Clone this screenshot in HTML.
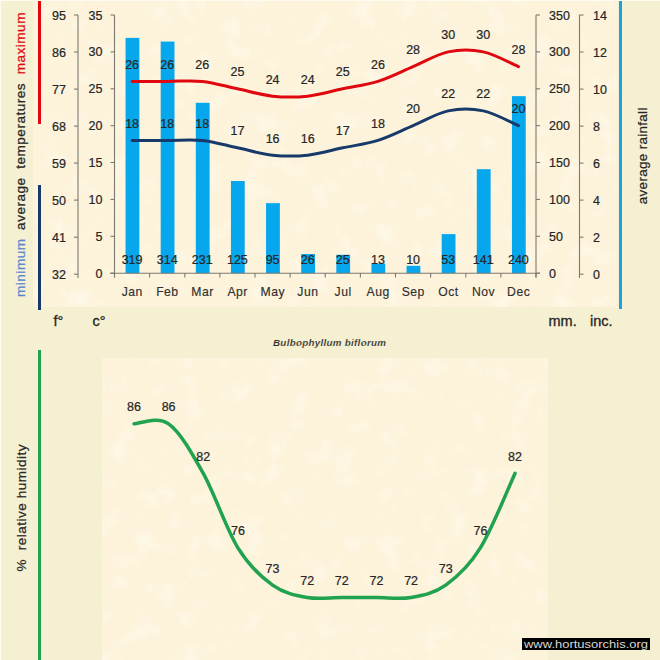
<!DOCTYPE html><html><head><meta charset="utf-8"><style>html,body{margin:0;padding:0;background:#F6F0D3;}svg{display:block;}text{font-family:"Liberation Sans",sans-serif;} .n{stroke:#262626;stroke-width:0.22px;} .m{stroke:#303030;stroke-width:0.15px;}</style></head><body>
<svg width="660" height="660" viewBox="0 0 660 660">
<rect x="0" y="0" width="660" height="660" fill="#F6F0D3"/>
<defs><filter id="tx" x="0" y="0" width="100%" height="100%" filterUnits="objectBoundingBox"><feTurbulence type="fractalNoise" baseFrequency="0.045" numOctaves="3" seed="7" result="n"/><feColorMatrix in="n" type="matrix" values="0 0 0 0 1  0 0 0 0 1  0 0 0 0 0.93  2.2 0 0 0 -1.15"/></filter><filter id="tx2" x="0" y="0" width="100%" height="100%" filterUnits="objectBoundingBox"><feTurbulence type="fractalNoise" baseFrequency="0.05" numOctaves="3" seed="21" result="n"/><feColorMatrix in="n" type="matrix" values="0 0 0 0 0.93  0 0 0 0 0.86  0 0 0 0 0.72  1.6 0 0 0 -0.88"/></filter></defs>
<rect x="33" y="1" width="584" height="306" fill="#FDF3DB"/>
<rect x="33" y="1" width="584" height="306" filter="url(#tx)" opacity="0.55"/>
<rect x="33" y="1" width="584" height="306" filter="url(#tx2)" opacity="0.25"/>
<rect x="102" y="358" width="446" height="302" fill="#FDF3DB"/>
<rect x="102" y="358" width="446" height="302" filter="url(#tx)" opacity="0.55"/>
<rect x="102" y="358" width="446" height="302" filter="url(#tx2)" opacity="0.25"/>
<rect x="38" y="1" width="3" height="123" fill="#E0080F"/>
<rect x="38" y="185" width="3" height="125" fill="#183A6B"/>
<rect x="619" y="1" width="3" height="308" fill="#1BA1E0"/>
<rect x="38" y="350" width="3" height="310" fill="#20A24F"/>
<text transform="translate(24.8,297) rotate(-90)" font-size="13.6" style="stroke-width:0.25px" textLength="284.5" lengthAdjust="spacing" xml:space="preserve"><tspan fill="#5A86CF" stroke="#5A86CF">minimum</tspan><tspan fill="#262626" stroke="#262626">  average  temperatures  </tspan><tspan fill="#E0080F" stroke="#E0080F">maximum</tspan></text>
<rect x="125.56" y="37.87" width="13.8" height="235.33" fill="#06A7EC"/>
<rect x="160.69" y="41.56" width="13.8" height="231.64" fill="#06A7EC"/>
<rect x="195.81" y="102.79" width="13.8" height="170.41" fill="#06A7EC"/>
<rect x="230.94" y="180.99" width="13.8" height="92.21" fill="#06A7EC"/>
<rect x="266.06" y="203.12" width="13.8" height="70.08" fill="#06A7EC"/>
<rect x="301.19" y="254.02" width="13.8" height="19.18" fill="#06A7EC"/>
<rect x="336.31" y="254.76" width="13.8" height="18.44" fill="#06A7EC"/>
<rect x="371.44" y="263.61" width="13.8" height="9.59" fill="#06A7EC"/>
<rect x="406.56" y="265.82" width="13.8" height="7.38" fill="#06A7EC"/>
<rect x="441.69" y="234.10" width="13.8" height="39.10" fill="#06A7EC"/>
<rect x="476.81" y="169.18" width="13.8" height="104.02" fill="#06A7EC"/>
<rect x="511.94" y="96.15" width="13.8" height="177.05" fill="#06A7EC"/>
<line x1="78.0" y1="15.0" x2="78.0" y2="278.0" stroke="#7C7870" stroke-width="1.1"/>
<line x1="74.0" y1="15.0" x2="78.0" y2="15.0" stroke="#7C7870" stroke-width="1.1"/>
<text x="66" y="19.5" font-size="12.5" class="n" fill="#262626" text-anchor="end">95</text>
<line x1="74.0" y1="52.0" x2="78.0" y2="52.0" stroke="#7C7870" stroke-width="1.1"/>
<text x="66" y="56.5" font-size="12.5" class="n" fill="#262626" text-anchor="end">86</text>
<line x1="74.0" y1="89.1" x2="78.0" y2="89.1" stroke="#7C7870" stroke-width="1.1"/>
<text x="66" y="93.6" font-size="12.5" class="n" fill="#262626" text-anchor="end">77</text>
<line x1="74.0" y1="126.1" x2="78.0" y2="126.1" stroke="#7C7870" stroke-width="1.1"/>
<text x="66" y="130.6" font-size="12.5" class="n" fill="#262626" text-anchor="end">68</text>
<line x1="74.0" y1="163.1" x2="78.0" y2="163.1" stroke="#7C7870" stroke-width="1.1"/>
<text x="66" y="167.6" font-size="12.5" class="n" fill="#262626" text-anchor="end">59</text>
<line x1="74.0" y1="200.1" x2="78.0" y2="200.1" stroke="#7C7870" stroke-width="1.1"/>
<text x="66" y="204.6" font-size="12.5" class="n" fill="#262626" text-anchor="end">50</text>
<line x1="74.0" y1="237.2" x2="78.0" y2="237.2" stroke="#7C7870" stroke-width="1.1"/>
<text x="66" y="241.7" font-size="12.5" class="n" fill="#262626" text-anchor="end">41</text>
<line x1="74.0" y1="274.2" x2="78.0" y2="274.2" stroke="#7C7870" stroke-width="1.1"/>
<text x="66" y="278.7" font-size="12.5" class="n" fill="#262626" text-anchor="end">32</text>
<line x1="114.5" y1="15.0" x2="114.5" y2="277.5" stroke="#7C7870" stroke-width="1.1"/>
<line x1="110.5" y1="15.0" x2="114.5" y2="15.0" stroke="#7C7870" stroke-width="1.1"/>
<text x="102.5" y="19.5" font-size="12.5" class="n" fill="#262626" text-anchor="end">35</text>
<line x1="110.5" y1="51.9" x2="114.5" y2="51.9" stroke="#7C7870" stroke-width="1.1"/>
<text x="102.5" y="56.4" font-size="12.5" class="n" fill="#262626" text-anchor="end">30</text>
<line x1="110.5" y1="88.8" x2="114.5" y2="88.8" stroke="#7C7870" stroke-width="1.1"/>
<text x="102.5" y="93.3" font-size="12.5" class="n" fill="#262626" text-anchor="end">25</text>
<line x1="110.5" y1="125.7" x2="114.5" y2="125.7" stroke="#7C7870" stroke-width="1.1"/>
<text x="102.5" y="130.2" font-size="12.5" class="n" fill="#262626" text-anchor="end">20</text>
<line x1="110.5" y1="162.5" x2="114.5" y2="162.5" stroke="#7C7870" stroke-width="1.1"/>
<text x="102.5" y="167.0" font-size="12.5" class="n" fill="#262626" text-anchor="end">15</text>
<line x1="110.5" y1="199.4" x2="114.5" y2="199.4" stroke="#7C7870" stroke-width="1.1"/>
<text x="102.5" y="203.9" font-size="12.5" class="n" fill="#262626" text-anchor="end">10</text>
<line x1="110.5" y1="236.3" x2="114.5" y2="236.3" stroke="#7C7870" stroke-width="1.1"/>
<text x="102.5" y="240.8" font-size="12.5" class="n" fill="#262626" text-anchor="end">5</text>
<line x1="110.5" y1="273.2" x2="114.5" y2="273.2" stroke="#7C7870" stroke-width="1.1"/>
<text x="102.5" y="277.7" font-size="12.5" class="n" fill="#262626" text-anchor="end">0</text>
<line x1="110.0" y1="273.2" x2="540.0" y2="273.2" stroke="#7C7870" stroke-width="1.1"/>
<line x1="114.5" y1="273.2" x2="114.5" y2="277.5" stroke="#7C7870" stroke-width="1.1"/>
<line x1="149.6" y1="273.2" x2="149.6" y2="277.5" stroke="#7C7870" stroke-width="1.1"/>
<line x1="184.8" y1="273.2" x2="184.8" y2="277.5" stroke="#7C7870" stroke-width="1.1"/>
<line x1="219.9" y1="273.2" x2="219.9" y2="277.5" stroke="#7C7870" stroke-width="1.1"/>
<line x1="255.0" y1="273.2" x2="255.0" y2="277.5" stroke="#7C7870" stroke-width="1.1"/>
<line x1="290.1" y1="273.2" x2="290.1" y2="277.5" stroke="#7C7870" stroke-width="1.1"/>
<line x1="325.2" y1="273.2" x2="325.2" y2="277.5" stroke="#7C7870" stroke-width="1.1"/>
<line x1="360.4" y1="273.2" x2="360.4" y2="277.5" stroke="#7C7870" stroke-width="1.1"/>
<line x1="395.5" y1="273.2" x2="395.5" y2="277.5" stroke="#7C7870" stroke-width="1.1"/>
<line x1="430.6" y1="273.2" x2="430.6" y2="277.5" stroke="#7C7870" stroke-width="1.1"/>
<line x1="465.8" y1="273.2" x2="465.8" y2="277.5" stroke="#7C7870" stroke-width="1.1"/>
<line x1="500.9" y1="273.2" x2="500.9" y2="277.5" stroke="#7C7870" stroke-width="1.1"/>
<line x1="536.0" y1="273.2" x2="536.0" y2="277.5" stroke="#7C7870" stroke-width="1.1"/>
<line x1="536.0" y1="15.0" x2="536.0" y2="277.5" stroke="#7C7870" stroke-width="1.1"/>
<line x1="536.0" y1="15.0" x2="540.0" y2="15.0" stroke="#7C7870" stroke-width="1.1"/>
<text x="549" y="19.5" font-size="12.5" class="n" fill="#262626">350</text>
<line x1="536.0" y1="51.9" x2="540.0" y2="51.9" stroke="#7C7870" stroke-width="1.1"/>
<text x="549" y="56.4" font-size="12.5" class="n" fill="#262626">300</text>
<line x1="536.0" y1="88.8" x2="540.0" y2="88.8" stroke="#7C7870" stroke-width="1.1"/>
<text x="549" y="93.3" font-size="12.5" class="n" fill="#262626">250</text>
<line x1="536.0" y1="125.7" x2="540.0" y2="125.7" stroke="#7C7870" stroke-width="1.1"/>
<text x="549" y="130.2" font-size="12.5" class="n" fill="#262626">200</text>
<line x1="536.0" y1="162.5" x2="540.0" y2="162.5" stroke="#7C7870" stroke-width="1.1"/>
<text x="549" y="167.0" font-size="12.5" class="n" fill="#262626">150</text>
<line x1="536.0" y1="199.4" x2="540.0" y2="199.4" stroke="#7C7870" stroke-width="1.1"/>
<text x="549" y="203.9" font-size="12.5" class="n" fill="#262626">100</text>
<line x1="536.0" y1="236.3" x2="540.0" y2="236.3" stroke="#7C7870" stroke-width="1.1"/>
<text x="549" y="240.8" font-size="12.5" class="n" fill="#262626">50</text>
<line x1="536.0" y1="273.2" x2="540.0" y2="273.2" stroke="#7C7870" stroke-width="1.1"/>
<text x="549" y="277.7" font-size="12.5" class="n" fill="#262626">0</text>
<line x1="579.5" y1="15.0" x2="579.5" y2="278.0" stroke="#7C7870" stroke-width="1.1"/>
<line x1="579.5" y1="15.0" x2="583.5" y2="15.0" stroke="#7C7870" stroke-width="1.1"/>
<text x="593" y="19.5" font-size="12.5" class="n" fill="#262626">14</text>
<line x1="579.5" y1="52.0" x2="583.5" y2="52.0" stroke="#7C7870" stroke-width="1.1"/>
<text x="593" y="56.5" font-size="12.5" class="n" fill="#262626">12</text>
<line x1="579.5" y1="89.1" x2="583.5" y2="89.1" stroke="#7C7870" stroke-width="1.1"/>
<text x="593" y="93.6" font-size="12.5" class="n" fill="#262626">10</text>
<line x1="579.5" y1="126.1" x2="583.5" y2="126.1" stroke="#7C7870" stroke-width="1.1"/>
<text x="593" y="130.6" font-size="12.5" class="n" fill="#262626">8</text>
<line x1="579.5" y1="163.1" x2="583.5" y2="163.1" stroke="#7C7870" stroke-width="1.1"/>
<text x="593" y="167.6" font-size="12.5" class="n" fill="#262626">6</text>
<line x1="579.5" y1="200.1" x2="583.5" y2="200.1" stroke="#7C7870" stroke-width="1.1"/>
<text x="593" y="204.6" font-size="12.5" class="n" fill="#262626">4</text>
<line x1="579.5" y1="237.2" x2="583.5" y2="237.2" stroke="#7C7870" stroke-width="1.1"/>
<text x="593" y="241.7" font-size="12.5" class="n" fill="#262626">2</text>
<line x1="579.5" y1="274.2" x2="583.5" y2="274.2" stroke="#7C7870" stroke-width="1.1"/>
<text x="593" y="278.7" font-size="12.5" class="n" fill="#262626">0</text>
<text transform="translate(646.5,204.2) rotate(-90)" font-size="13.5" fill="#262626" class="n" textLength="96.6" lengthAdjust="spacing">average rainfall</text>
<path d="M132.06,81.39 C137.92,81.39 155.48,81.39 167.19,81.39 C178.90,81.39 190.60,80.16 202.31,81.39 C214.02,82.62 225.73,86.31 237.44,88.77 C249.15,91.23 260.85,94.92 272.56,96.15 C284.27,97.38 295.98,97.38 307.69,96.15 C319.40,94.92 331.10,91.23 342.81,88.77 C354.52,86.31 366.23,85.08 377.94,81.39 C389.65,77.71 401.35,71.56 413.06,66.64 C424.77,61.72 436.48,54.34 448.19,51.89 C459.90,49.43 471.60,49.43 483.31,51.89 C495.02,54.34 512.58,64.18 518.44,66.64" fill="none" stroke="#E0080F" stroke-width="3" stroke-linecap="round"/>
<path d="M132.06,140.41 C137.92,140.41 155.48,140.41 167.19,140.41 C178.90,140.41 190.60,139.18 202.31,140.41 C214.02,141.64 225.73,145.33 237.44,147.79 C249.15,150.25 260.85,153.94 272.56,155.17 C284.27,156.40 295.98,156.40 307.69,155.17 C319.40,153.94 331.10,150.25 342.81,147.79 C354.52,145.33 366.23,144.10 377.94,140.41 C389.65,136.72 401.35,130.58 413.06,125.66 C424.77,120.74 436.48,113.36 448.19,110.90 C459.90,108.44 471.60,108.44 483.31,110.90 C495.02,113.36 512.58,123.20 518.44,125.66" fill="none" stroke="#183A6B" stroke-width="3" stroke-linecap="round"/>
<text x="132.1" y="68.9" font-size="12.5" class="n" fill="#262626" text-anchor="middle">26</text>
<text x="132.1" y="127.9" font-size="12.5" class="n" fill="#262626" text-anchor="middle">18</text>
<text x="132.1" y="263.5" font-size="12.5" class="n" fill="#262626" text-anchor="middle">319</text>
<text x="132.3" y="296.2" font-size="12.2" class="m" fill="#303030" text-anchor="middle" letter-spacing="0.5">Jan</text>
<text x="167.2" y="68.9" font-size="12.5" class="n" fill="#262626" text-anchor="middle">26</text>
<text x="167.2" y="127.9" font-size="12.5" class="n" fill="#262626" text-anchor="middle">18</text>
<text x="167.2" y="263.5" font-size="12.5" class="n" fill="#262626" text-anchor="middle">314</text>
<text x="167.4" y="296.2" font-size="12.2" class="m" fill="#303030" text-anchor="middle" letter-spacing="0.5">Feb</text>
<text x="202.3" y="68.9" font-size="12.5" class="n" fill="#262626" text-anchor="middle">26</text>
<text x="202.3" y="127.9" font-size="12.5" class="n" fill="#262626" text-anchor="middle">18</text>
<text x="202.3" y="263.5" font-size="12.5" class="n" fill="#262626" text-anchor="middle">231</text>
<text x="202.6" y="296.2" font-size="12.2" class="m" fill="#303030" text-anchor="middle" letter-spacing="0.5">Mar</text>
<text x="237.4" y="76.3" font-size="12.5" class="n" fill="#262626" text-anchor="middle">25</text>
<text x="237.4" y="135.3" font-size="12.5" class="n" fill="#262626" text-anchor="middle">17</text>
<text x="237.4" y="263.5" font-size="12.5" class="n" fill="#262626" text-anchor="middle">125</text>
<text x="237.7" y="296.2" font-size="12.2" class="m" fill="#303030" text-anchor="middle" letter-spacing="0.5">Apr</text>
<text x="272.6" y="83.6" font-size="12.5" class="n" fill="#262626" text-anchor="middle">24</text>
<text x="272.6" y="142.7" font-size="12.5" class="n" fill="#262626" text-anchor="middle">16</text>
<text x="272.6" y="263.5" font-size="12.5" class="n" fill="#262626" text-anchor="middle">95</text>
<text x="272.8" y="296.2" font-size="12.2" class="m" fill="#303030" text-anchor="middle" letter-spacing="0.5">May</text>
<text x="307.7" y="83.6" font-size="12.5" class="n" fill="#262626" text-anchor="middle">24</text>
<text x="307.7" y="142.7" font-size="12.5" class="n" fill="#262626" text-anchor="middle">16</text>
<text x="307.7" y="263.5" font-size="12.5" class="n" fill="#262626" text-anchor="middle">26</text>
<text x="307.9" y="296.2" font-size="12.2" class="m" fill="#303030" text-anchor="middle" letter-spacing="0.5">Jun</text>
<text x="342.8" y="76.3" font-size="12.5" class="n" fill="#262626" text-anchor="middle">25</text>
<text x="342.8" y="135.3" font-size="12.5" class="n" fill="#262626" text-anchor="middle">17</text>
<text x="342.8" y="263.5" font-size="12.5" class="n" fill="#262626" text-anchor="middle">25</text>
<text x="343.1" y="296.2" font-size="12.2" class="m" fill="#303030" text-anchor="middle" letter-spacing="0.5">Jul</text>
<text x="377.9" y="68.9" font-size="12.5" class="n" fill="#262626" text-anchor="middle">26</text>
<text x="377.9" y="127.9" font-size="12.5" class="n" fill="#262626" text-anchor="middle">18</text>
<text x="377.9" y="263.5" font-size="12.5" class="n" fill="#262626" text-anchor="middle">13</text>
<text x="378.2" y="296.2" font-size="12.2" class="m" fill="#303030" text-anchor="middle" letter-spacing="0.5">Aug</text>
<text x="413.1" y="54.1" font-size="12.5" class="n" fill="#262626" text-anchor="middle">28</text>
<text x="413.1" y="113.2" font-size="12.5" class="n" fill="#262626" text-anchor="middle">20</text>
<text x="413.1" y="263.5" font-size="12.5" class="n" fill="#262626" text-anchor="middle">10</text>
<text x="413.3" y="296.2" font-size="12.2" class="m" fill="#303030" text-anchor="middle" letter-spacing="0.5">Sep</text>
<text x="448.2" y="39.4" font-size="12.5" class="n" fill="#262626" text-anchor="middle">30</text>
<text x="448.2" y="98.4" font-size="12.5" class="n" fill="#262626" text-anchor="middle">22</text>
<text x="448.2" y="263.5" font-size="12.5" class="n" fill="#262626" text-anchor="middle">53</text>
<text x="448.4" y="296.2" font-size="12.2" class="m" fill="#303030" text-anchor="middle" letter-spacing="0.5">Oct</text>
<text x="483.3" y="39.4" font-size="12.5" class="n" fill="#262626" text-anchor="middle">30</text>
<text x="483.3" y="98.4" font-size="12.5" class="n" fill="#262626" text-anchor="middle">22</text>
<text x="483.3" y="263.5" font-size="12.5" class="n" fill="#262626" text-anchor="middle">141</text>
<text x="483.6" y="296.2" font-size="12.2" class="m" fill="#303030" text-anchor="middle" letter-spacing="0.5">Nov</text>
<text x="518.4" y="54.1" font-size="12.5" class="n" fill="#262626" text-anchor="middle">28</text>
<text x="518.4" y="113.2" font-size="12.5" class="n" fill="#262626" text-anchor="middle">20</text>
<text x="518.4" y="263.5" font-size="12.5" class="n" fill="#262626" text-anchor="middle">240</text>
<text x="518.7" y="296.2" font-size="12.2" class="m" fill="#303030" text-anchor="middle" letter-spacing="0.5">Dec</text>
<text x="53.5" y="325.5" font-size="14.5" style="stroke:#262626;stroke-width:0.3px" fill="#262626">f°</text>
<text x="92.5" y="325.5" font-size="14.5" style="stroke:#262626;stroke-width:0.3px" fill="#262626">c°</text>
<text x="548.5" y="325.5" font-size="14.5" style="stroke:#262626;stroke-width:0.3px" fill="#262626">mm.</text>
<text x="590" y="325.5" font-size="14.5" style="stroke:#262626;stroke-width:0.3px" fill="#262626">inc.</text>
<text x="273" y="346" font-size="9.8" font-weight="bold" font-style="italic" fill="#2A2A2A" style="stroke:#F6F0D3;stroke-width:0.15px" textLength="113" lengthAdjust="spacing">Bulbophyllum biflorum</text>
<text transform="translate(26.3,571.4) rotate(-90)" font-size="13.5" fill="#262626" class="n" textLength="127" lengthAdjust="spacing" xml:space="preserve">%  relative humidity</text>
<path d="M134.00,423.80 C139.77,423.80 157.09,415.53 168.64,423.80 C180.18,432.07 191.73,452.75 203.27,473.43 C214.82,494.11 226.36,529.26 237.91,547.87 C249.45,566.48 261.00,576.82 272.55,585.09 C284.09,593.36 295.64,595.43 307.18,597.50 C318.73,599.57 330.27,597.50 341.82,597.50 C353.36,597.50 364.91,597.50 376.45,597.50 C388.00,597.50 399.55,599.57 411.09,597.50 C422.64,595.43 434.18,593.36 445.73,585.09 C457.27,576.82 468.82,566.48 480.36,547.87 C491.91,529.26 509.23,485.84 515.00,473.43" fill="none" stroke="#20A24F" stroke-width="3.5" stroke-linecap="round"/>
<text x="134.0" y="411.3" font-size="12.5" class="n" fill="#262626" text-anchor="middle">86</text>
<text x="168.6" y="411.3" font-size="12.5" class="n" fill="#262626" text-anchor="middle">86</text>
<text x="203.3" y="460.9" font-size="12.5" class="n" fill="#262626" text-anchor="middle">82</text>
<text x="237.9" y="535.4" font-size="12.5" class="n" fill="#262626" text-anchor="middle">76</text>
<text x="272.5" y="572.6" font-size="12.5" class="n" fill="#262626" text-anchor="middle">73</text>
<text x="307.2" y="585.0" font-size="12.5" class="n" fill="#262626" text-anchor="middle">72</text>
<text x="341.8" y="585.0" font-size="12.5" class="n" fill="#262626" text-anchor="middle">72</text>
<text x="376.5" y="585.0" font-size="12.5" class="n" fill="#262626" text-anchor="middle">72</text>
<text x="411.1" y="585.0" font-size="12.5" class="n" fill="#262626" text-anchor="middle">72</text>
<text x="445.7" y="572.6" font-size="12.5" class="n" fill="#262626" text-anchor="middle">73</text>
<text x="480.4" y="535.4" font-size="12.5" class="n" fill="#262626" text-anchor="middle">76</text>
<text x="515.0" y="460.9" font-size="12.5" class="n" fill="#262626" text-anchor="middle">82</text>
<rect x="522" y="638" width="128" height="12" fill="#000"/>
<text x="524" y="648" font-size="11" fill="#D8D8D8" textLength="124" lengthAdjust="spacingAndGlyphs">www.hortusorchis.org</text>
<rect x="0" y="0" width="660" height="1" fill="#FDFCEE"/><rect x="0" y="0" width="1" height="660" fill="#FDFCEE"/>
</svg></body></html>
